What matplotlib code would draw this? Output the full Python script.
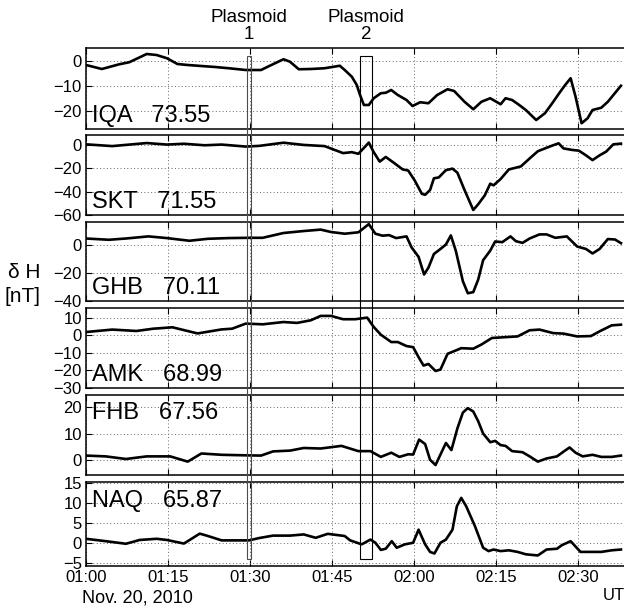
import matplotlib
matplotlib.use('Agg')
import matplotlib.pyplot as plt
from matplotlib.patches import Rectangle
from matplotlib.transforms import blended_transform_factory

plt.rcParams['font.family'] = ['Liberation Sans', 'DejaVu Sans']

# minutes after 01:00 UT, Nov. 20, 2010
stations = ['IQA', 'SKT', 'GHB', 'AMK', 'FHB', 'NAQ']
latitudes = ['73.55', '71.55', '70.11', '68.99', '67.56', '65.87']

iqa_t = [0, 2.9, 6.1, 7.9, 11.1, 12.9, 14.8, 16.7, 18.6, 21.7, 23.6, 26.1, 29.2, 32, 33.6,
         36.1, 37.3, 38.9, 41.1, 43.6, 46.4, 47.3, 48.6, 49.5, 50.1, 50.8, 51.7, 52.6, 53.9,
         54.8, 55.8, 57, 58.6, 59.7, 61.1, 62.6, 64.2, 66.1, 67.3, 69.2, 70.8, 72.3, 73.9,
         75.8, 76.7, 77.9, 79.2, 80.4, 82.3, 83.9, 85.1, 86.7, 87.6, 88.6, 89.5, 90.6, 91.7,
         92.6, 94.2, 95.4, 97.8]
iqa_v = [-1.6, -3.2, -1.3, -0.5, 2.8, 2.4, 1.1, -1.2, -1.6, -2.1, -2.4, -2.9, -3.6, -3.6, -1.9,
         0.7, -0.3, -3.3, -3.2, -2.9, -1.9, -3.6, -6.3, -9.6, -13.6, -17.6, -17.6, -14.9, -12.9,
         -12.7, -11.6, -13.6, -15.6, -18, -16.5, -16.9, -13.6, -11.3, -12, -16.3, -19.3, -16.3,
         -14.9, -17.3, -14.9, -15.6, -17.6, -19.6, -23.6, -20.9, -17.3, -12.3, -9.6, -6.9, -14.3,
         -24.9, -22.9, -19.6, -18.7, -16.3, -9.9]

skt_t = [0, 4.8, 11.1, 14.8, 17.9, 21.7, 24.8, 29.2, 31.7, 36.1, 39.8, 43.6, 47, 48.6, 49.8,
         51.7, 52.6, 53.7, 54.8, 56.4, 57.9, 58.9, 60.1, 61.4, 62, 62.9, 63.6, 64.5, 65.8, 67,
         67.9, 69.2, 70.8, 71.7, 72.9, 73.9, 74.5, 75.8, 77.3, 79.5, 81.1, 82.6, 83.9, 85.1,
         86.4, 87.3, 88.9, 90.1, 91.4, 92.6, 93.9, 95.1, 96.4, 97.8]
skt_v = [0.5, -1, 1.6, 0.3, 1, -0.3, 0.3, -1.4, -0.8, 1.9, 0, -1, -7, -6.2, -7.6,
         2, -6.2, -14.3, -10.3, -15.7, -21, -21.9, -30.5, -41.9, -42.7, -38.6, -28.6, -27.8,
         -21.6, -20.3, -23.8, -38.6, -55.7, -50.8, -43.2, -33.2, -34.6, -29.2, -21, -18.4,
         -11.6, -5.4, -3, -0.8, 1.4, -3, -4.3, -4.9, -8.9, -13, -8.9, -5.7, 0.5, 1.1]

ghb_t = [0, 4.2, 7.3, 11.4, 14.8, 18.9, 22.3, 26.1, 29.8, 32.3, 36.1, 39.8, 42.9, 44.8, 47.3,
         49.8, 51.7, 52.9, 54.2, 55.4, 56.7, 58.6, 59.5, 60.8, 61.8, 62.6, 63.6, 64.8, 65.8,
         66.7, 67.6, 68.9, 69.8, 70.8, 71.7, 72.6, 73.9, 74.8, 76.1, 77.6, 78.6, 79.8, 81.1,
         82.9, 84.2, 85.8, 87.9, 89.8, 91.4, 92.6, 93.9, 95.4, 96.7, 97.8]
ghb_v = [4.3, 3.4, 4.3, 5.8, 4.6, 2.7, 4.1, 4.6, 4.8, 4.8, 8.2, 9.6, 10.6, 8.9, 7.7,
         8.7, 14.5, 7.7, 6.3, 6.7, 4.6, 5.8, -1.9, -8.7, -21.2, -16.4, -6.7, -3.1, 0,
         6.5, -4.3, -26, -34.5, -33.7, -24.8, -11.1, -4.3, 2.2, 1.7, 5.8, 2.4, 1.2, 4.3,
         7.2, 7.2, 4.8, 5.8, -1.4, -3.1, -6.3, -3.1, 3.9, 3.6, 1]

amk_t = [0, 4.8, 9.2, 12.3, 15.8, 20.4, 24.8, 26.7, 29.2, 32.3, 36.1, 38.6, 41.1, 42.9, 44.8,
         47, 49.2, 51.4, 52.6, 53.9, 55.8, 57, 58.6, 59.8, 60.8, 61.7, 62.6, 63.9, 64.8, 66.1,
         67.3, 68.6, 70.8, 72.3, 74.2, 76.7, 78.9, 81.1, 82.9, 85.4, 87.3, 89.8, 92.3, 93.9,
         96.1, 97.8]
amk_v = [1.9, 3.3, 2.5, 3.8, 4.6, 1.1, 3.4, 3.8, 6.7, 6.3, 7.6, 7.1, 8.6, 11.1, 11.1,
         9.2, 9.2, 10.1, 4.8, 0.4, -3.8, -3.8, -6.1, -6.7, -12.4, -17.2, -16.3, -20.3, -19.5,
         -10.5, -9, -7.3, -7.6, -5.2, -1.5, -1, -0.6, 2.9, 3.3, 1.3, 1, -0.6, -0.4, 2.3,
         5.7, 6.1]

fhb_t = [0, 3.6, 7.3, 11.1, 15.4, 18.6, 21.1, 24.8, 29.2, 32, 34.2, 37.3, 39.8, 42.9, 46.7,
         49.8, 52, 53.9, 55.8, 57.3, 58.9, 59.8, 60.9, 62, 62.9, 63.9, 64.8, 65.8, 66.8, 67.9,
         68.9, 69.8, 70.8, 71.7, 72.6, 73.9, 74.8, 75.8, 76.7, 77.9, 79.8, 81.1, 82.6, 84.2,
         86.1, 87.3, 88.4, 89.5, 90.8, 92.6, 94.2, 96.1, 97.8]
fhb_v = [1.6, 1.3, 0.3, 1.3, 1.3, -0.7, 2.4, 1.9, 1.7, 1.6, 3.2, 3.5, 4.5, 4.3, 5.3,
         3.3, 3.3, 1.1, 2.7, 1.1, 2.1, 2, 7.7, 6, 0, -2, 2, 6.4, 3.7, 12,
         18, 19.7, 18.4, 14.7, 10, 6.7, 7.2, 5.6, 5.3, 3.3, 2.9, 1.3, -0.7, 0.5,
         1.3, 3.1, 4.7, 2.7, 1.3, 1.9, 1.1, 1.1, 1.6]

naq_t = [0, 3.6, 7.3, 9.8, 12.9, 14.8, 17.9, 20.8, 22.3, 24.8, 27.3, 29.8, 31.7, 34.2, 37.3,
         39.8, 42, 44.2, 47.3, 48.3, 50.4, 52, 52.9, 53.9, 54.8, 55.9, 56.8, 58.3, 59.8, 60.8,
         62, 62.9, 63.7, 64.8, 65.8, 67, 67.8, 68.6, 69.5, 71.1, 72.6, 73.6, 74.5, 75.8, 77.3,
         78.9, 80.4, 82.6, 84.2, 86.1, 87, 88.6, 90.4, 92.3, 94.2, 96.1, 97.8]
naq_v = [1, 0.4, -0.25, 0.7, 1, 0.7, -0.2, 2.3, 1.7, 0.6, 0.6, 0.6, 1.2, 1.8, 1.8,
         2.1, 1.25, 2.25, 1.7, 0.6, -0.4, 0.8, 0, -1.8, -1.5, 0.4, -1.25, -0.4, 0, 3.3,
         -0.4, -2.3, -2.7, 0, 0.8, 3.3, 9.2, 11.3, 9.2, 4.2, -1.25, -2.1, -1.7, -2.1, -1.9,
         -2.3, -2.9, -3.2, -1.7, -1.5, -0.6, 0.4, -2.3, -2.3, -2.3, -1.9, -1.7]

times = [iqa_t, skt_t, ghb_t, amk_t, fhb_t, naq_t]
values = [iqa_v, skt_v, ghb_v, amk_v, fhb_v, naq_v]

y_limits = [(-27.2, 5.2), (-60, 8.5), (-40, 16), (-30, 15.6), (-5.8, 24.7), (-5.85, 15.3)]
y_ticks = [[-20, -10, 0], [-60, -40, -20, 0], [-40, -20, 0], [-30, -20, -10, 0, 10],
           [0, 10, 20], [-5, 0, 5, 10, 15]]

x_ticks = [0, 15, 30, 45, 60, 75, 90]
x_ticklabels = ['01:00', '01:15', '01:30', '01:45', '02:00', '02:15', '02:30']

plasmoids = [(29.4, 30.2), (50.1, 52.2)]
plasmoid_names = ['Plasmoid\n1', 'Plasmoid\n2']

W, H = 624, 611
fig = plt.figure(figsize=(W / 100, H / 100), dpi=100)

# panel top/bottom in pixels
panel_px = [(48, 129), (135, 215), (222, 301), (308, 388), (395, 475), (482, 566)]
label_at_top = [False, False, False, False, True, True]

axes = []
for i, (top, bot) in enumerate(panel_px):
    ax = fig.add_axes([86 / W, 1 - bot / H, 547 / W, (bot - top) / H])
    ax.plot(times[i], values[i], color='k', lw=1.9)
    ax.set_xlim(0, 100)
    ax.set_ylim(*y_limits[i])
    ax.set_yticks(y_ticks[i])
    ax.set_xticks(x_ticks)
    if i == len(panel_px) - 1:
        ax.set_xticklabels(x_ticklabels)
    else:
        ax.set_xticklabels([])
    ax.tick_params(direction='in', length=4, width=0.8, top=True, right=True,
                   labelsize=12, pad=3)
    ax.grid(True, linestyle=(0, (1, 2.5)), color='0.4', linewidth=0.7)
    for s in ax.spines.values():
        s.set_linewidth(1.1)
    ylab = 0.70 if label_at_top[i] else 0.09
    ax.text(0.011, ylab, f'{stations[i]}   {latitudes[i]}', transform=ax.transAxes,
            fontsize=17, va='baseline', ha='left')
    axes.append(ax)

# plasmoid boxes across all panels
trans = blended_transform_factory(axes[0].transData, fig.transFigure)
box_colors = ['0.3', 'k']
for (t0, t1), name, c in zip(plasmoids, plasmoid_names, box_colors):
    rect = Rectangle((t0, 1 - 559 / H), t1 - t0, (559 - 56) / H, fill=False,
                     transform=trans, lw=0.8, ec=c, clip_on=False, zorder=5)
    fig.add_artist(rect)
    fig.text((t0 + t1) / 2, 1 - 43 / H, name, transform=trans, ha='center', va='bottom',
             fontsize=13.5, linespacing=1.0)

fig.text(8 / W, 1 - 272 / H, 'δ H', fontsize=15, va='center', ha='left')
fig.text(5 / W, 1 - 297 / H, '[nT]', fontsize=15, va='center', ha='left')
fig.text(82 / W, 1 - 598 / H, 'Nov. 20, 2010', fontsize=13, va='center', ha='left')
fig.text(603 / W, 1 - 595 / H, 'UT', fontsize=12, va='center', ha='left')

fig.savefig('out.png', dpi=100)
